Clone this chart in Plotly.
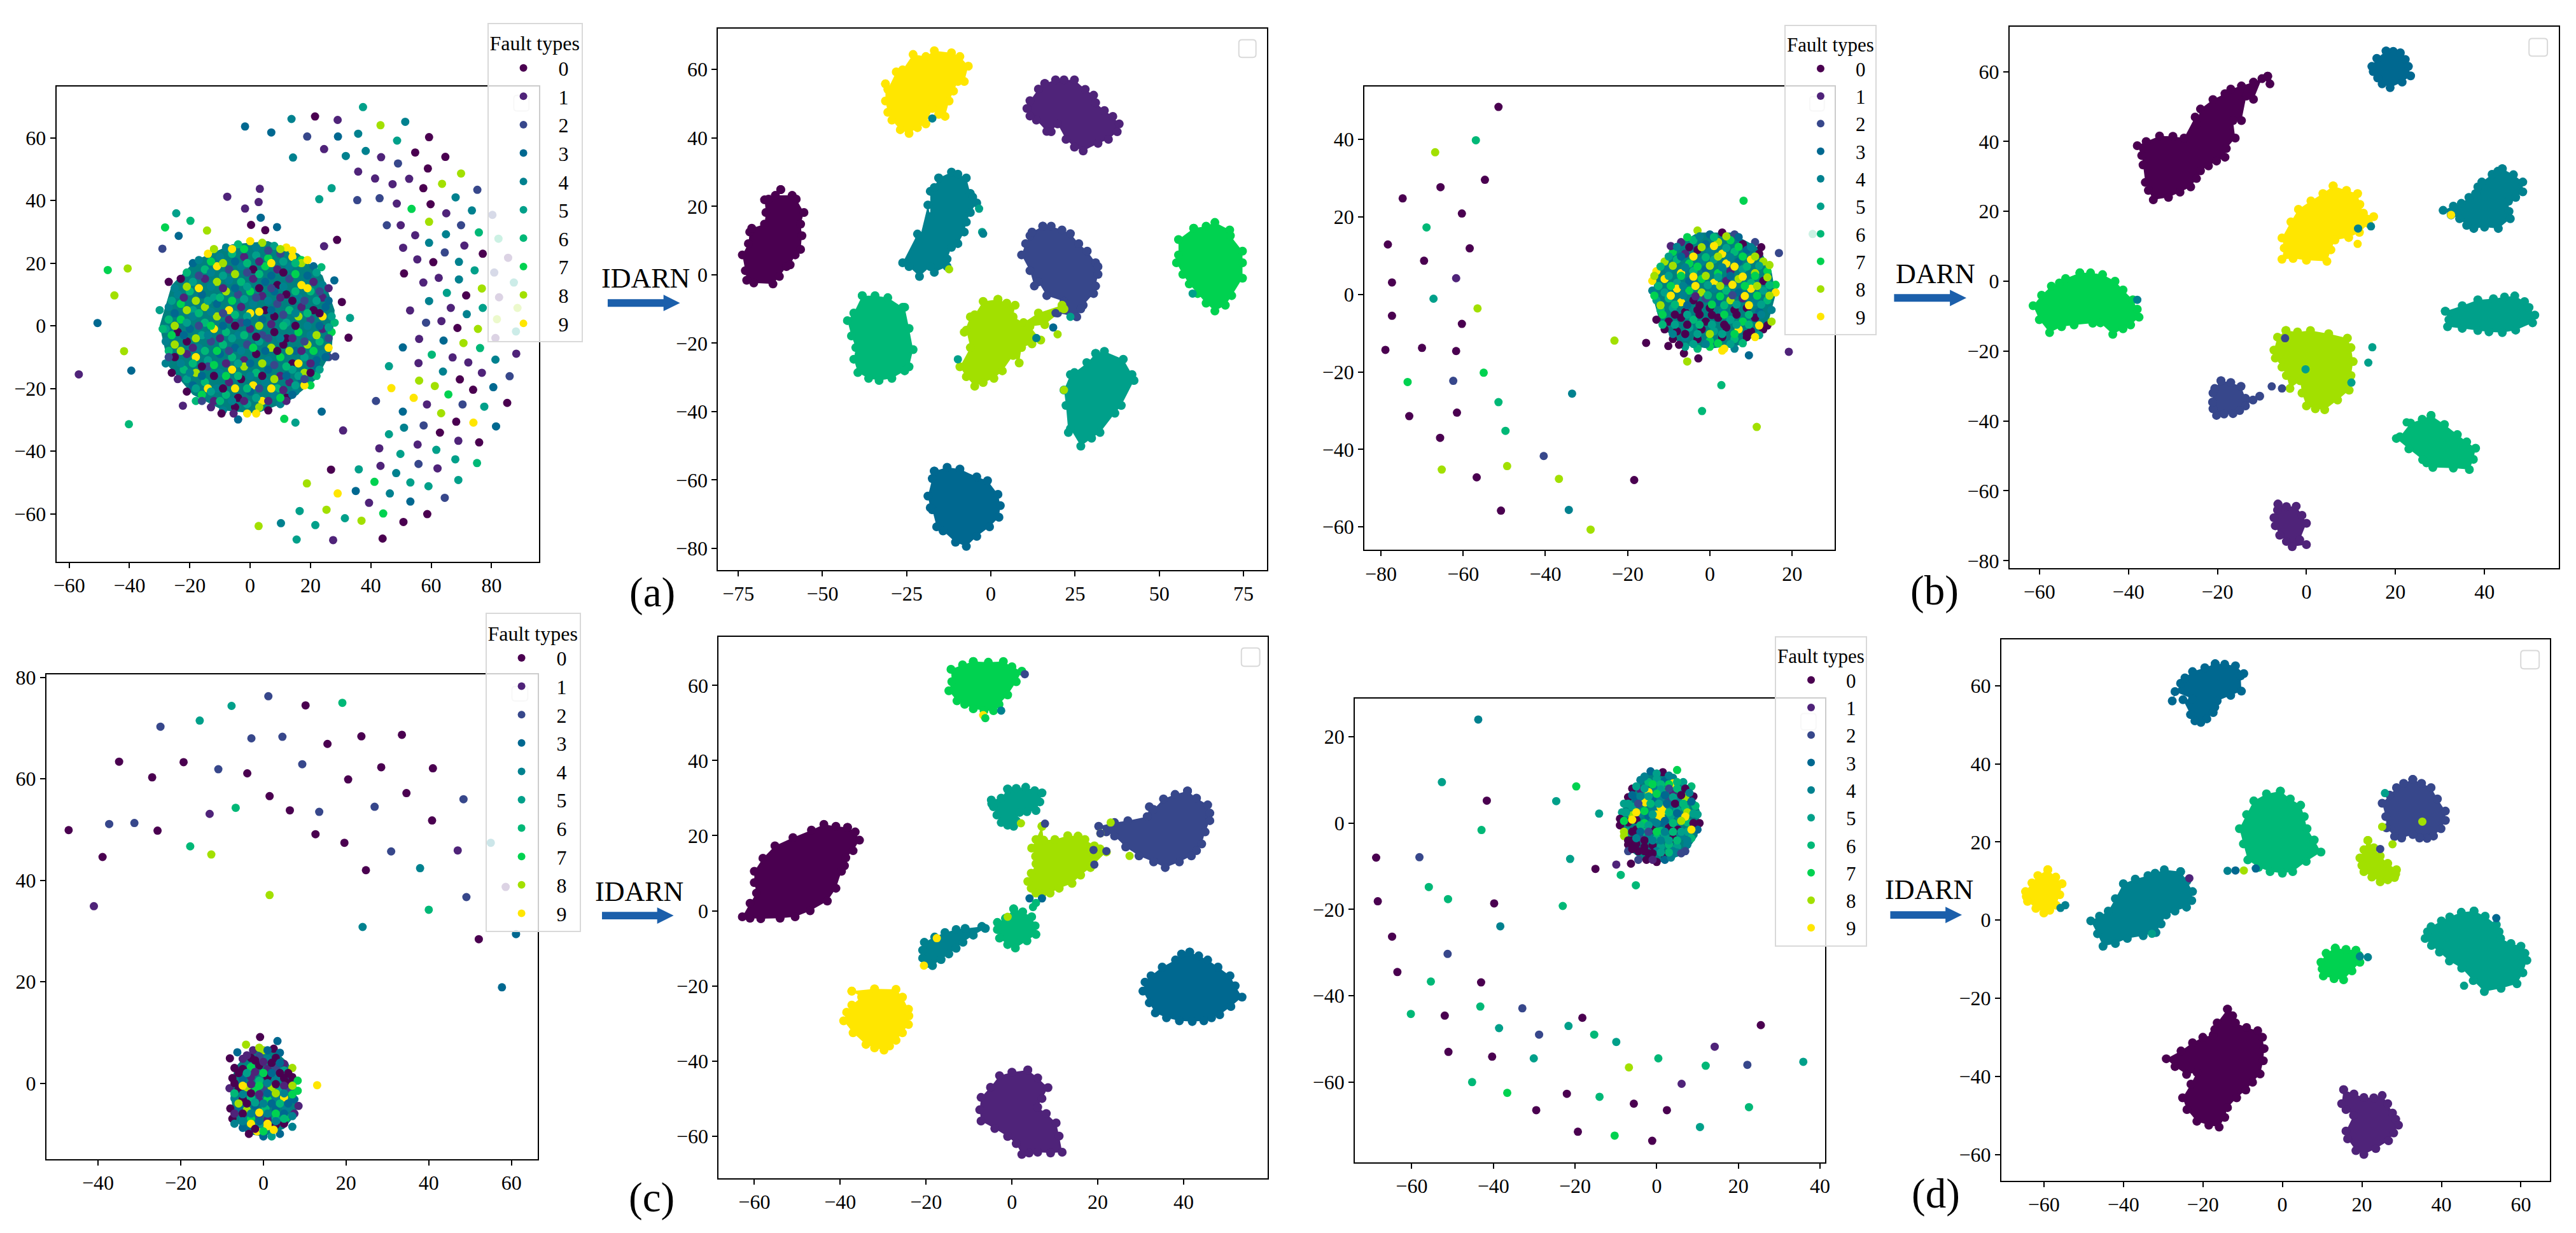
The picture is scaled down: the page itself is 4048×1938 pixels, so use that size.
import plotly.graph_objects as go

# Colours of fault types 0-9, read from the legends
fault_types = ["0", "1", "2", "3", "4", "5", "6", "7", "8", "9"]
fault_colors = ["#4a0050", "#4f2379", "#37478b", "#006890", "#00818f", "#00a08a", "#00b877", "#00d250", "#a2e000", "#ffe600"]

# ---- left panels: (x, y, fault type) ----
a1_points = [
(-1.7,63.6,3),(7,61.7,3),(13.7,66,4),(21.5,66.8,0),(29,65.7,1),(37.4,69.8,5),(43.2,64,8),(51.4,65.1,4),(59.3,60.2,0),(18.9,60.4,2),(29.1,60.4,3),(35.8,61.3,4),
(24.5,56.4,1),(31.7,54.2,4),(38.3,55.8,4),(48.7,59.1,5),(54.7,55.3,0),(64.7,53.9,0),(14.2,53.7,4),(43.4,53.8,1),(49,51.8,2),(58.9,50.2,0),(35.8,49.2,1),(41.4,47,1),
(47.2,45.2,1),(52.7,46.9,1),(69.9,48.6,8),(63.6,45.3,8),(57.4,43.9,0),(75.3,43.4,2),(27,43.9,5),(22.9,40.4,5),(35.5,40.1,2),(42.9,40.7,2),(48.6,39,1),(53.5,37.3,7),
(59.8,38.8,0),(68.1,41,4),(73.5,36.8,4),(80.3,35.4,2),(45.3,32.1,2),(49.9,32.1,1),(59.3,33.2,8),(65,35.9,1),(69.9,32.1,2),(75.8,29.8,6),(82.3,27.8,6),(54.7,28.9,1),
(59.3,26.5,4),(64.9,29.2,4),(71,25.6,1),(50.7,24.9,1),(77.1,23,0),(64.5,23.4,2),(55.4,21.2,1),(60.7,20.3,0),(69.2,20.4,4),(85.5,21.7,1),(74.4,17.7,5),(51,16.7,0),
(62.5,15.3,1),(69.2,14.8,4),(80.9,17,2),(57.4,13.8,1),(87.4,13.8,5),(76.8,11.9,8),(65.2,10.5,5),(71.6,9.7,0),(82.5,9.1,1),(59.3,7.9,4),(66.5,5.7,1),(77.1,5.7,5),
(88.6,5.7,8),(53,4.9,1),(71.8,3.7,4),(81.8,2.1,8),(58.3,1,2),(63.4,1.5,1),(68.7,-0.7,0),(75.5,-1,8),(88.1,-1.8,5),(56,-4.2,1),(64.1,-4.7,3),(81.3,-3.9,1),(70.7,-5.5,8),
(50.6,-6.9,3),(76.2,-7.1,6),(88.2,-8.9,1),(60.2,-9.2,6),(67.1,-10.1,1),(55.8,-11.9,1),(72.3,-11.7,1),(81.3,-10.8,4),(46,-12.9,5),(63.9,-14.6,4),(76.8,-15,1),(56,-17.5,8),
(69.5,-17.1,0),(86,-16.1,2),(61.2,-19.2,8),(46.8,-19.9,9),(73.9,-20.4,0),(80.6,-19.6,3),(65.7,-21.9,7),(54.2,-23,9),(41.7,-24,2),(58.6,-25.1,1),(70.4,-25.1,2),(85.2,-24.6,0),
(50.6,-27.4,3),(77.6,-25.8,5),(63.3,-27.9,8),(68.3,-30.6,0),(74,-30.9,9),(57.5,-31.8,2),(51,-32.5,4),(81.5,-32.1,3),(30.8,-33.4,1),(62.9,-34.1,0),(46,-34.6,5),(69,-36.7,1),
(75.9,-37.2,0),(55.5,-37.9,1),(42.8,-39.1,1),(61.7,-39.6,5),(49.8,-40.9,5),(68,-42.6,5),(75.2,-43.8,6),(43.2,-44.7,1),(55.8,-44.1,2),(62.1,-45.5,1),(26.8,-45.9,0),(36,-45.8,5),
(48.4,-47,4),(69,-49.2,5),(18.8,-50.3,8),(41.2,-49.8,7),(53.1,-50,5),(59.1,-51.2,5),(35,-52.7,3),(46.3,-53.5,4),(29,-53.5,9),(64.5,-54.9,2),(53.1,-56.1,3),(39.4,-56.5,1),
(25.3,-58.7,8),(16.4,-59.1,5),(44.1,-59.9,7),(58.7,-60.1,0),(31.4,-61.4,5),(36.9,-62.2,8),(50.8,-62.6,0),(10.2,-63,4),(21.6,-63.6,5),(2.8,-63.9,8),(15.4,-68.2,5),(27.5,-68.4,1),(43.9,-67.9,0),
(-56.8,-15.5,1),(-50.6,0.9,3),(-47.2,17.8,7),(-40.6,18.3,8),(-45,9.7,8),(-41.8,-8.1,8),(-39.4,-14.3,3),(-40.2,-31.4,6),(-24.5,35.9,5),(-19.8,33.5,6),(-28.2,31.4,7),(-23.7,28.7,3),
(-29.1,24.6,2),(-14.3,30.4,8),(-7.6,41.2,1),(3.2,43.7,1),(2.8,39.5,1),(-1.7,37.4,1),(3.5,34.5,3),(0.3,32.2,0),(8.9,31.5,3),(5,30.5,0),(28.8,27.4,0),(24.5,25.4,1),(23.6,18.7,6),
(27.9,14.5,3),(30.4,7.6,0),(33.1,2.5,5),(32.6,-3.8,0),(28.2,-9.8,2),(23.7,-27.4,3),(15,-30.9,5),(11.3,-29.7,7),(-4,-29.9,3),(-22.3,-25.5,1),
# the dense ball
(-8,25,4),(-4,26,6),(0,27,9),(4,26.5,8),(8,25.5,5),(12,25,9),(-14,23,9),(-10,22,4),(-6,23,6),(-2,22,1),(2,22.5,5),(6,21.5,7),(10,23,2),(14,22,9),(17,21,7),
(-19,20,3),(-15,18,6),(-11,19,9),(-7,18,2),(-3,19,4),(1,18,0),(5,19,7),(9,18,1),(13,19,4),(17,20,8),(21,19,3),(-23,15,0),(-19,14,5),(-15,15,1),(-11,14,8),(-7,14.5,4),
(-3,14,6),(1,15,1),(5,14,3),(9,13,0),(13,15,2),(17,13,9),(21,14,1),(24,13,4),(-27,14,0),(-24,10,4),(-20,11,6),(-16,10,3),(-12,9,5),(-8,11,8),(-4,10,2),(0,11,7),(4,9.5,1),
(8,11,3),(12,10,0),(16,9,4),(20,11,6),(24,9,1),(-27,6,4),(-23,7,7),(-19,5,5),(-15,6,8),(-11,7,3),(-7,5,9),(-3,6,1),(1,7,4),(5,5,0),(9,7,2),(13,5,6),(17,6,1),(21,5,0),(25,6,3),
(-30,5,5),(-27,2,6),(-23,2,7),(-19,3,4),(-15,1,6),(-11,3,8),(-7,2,1),(-3,1,2),(0,4,9),(4,2,3),(8,3,0),(12,1,5),(16,3,8),(20,2,2),(24,3,9),(28,1,6),(-28,-1,5),(-24,-2,0),(-20,-1,3),
(-16,-3,5),(-12,-1,9),(-8,-2,6),(-4,-3,4),(0,-1,1),(4,-3,2),(8,-2,0),(12,-4,0),(16,-2,7),(20,-3,4),(24,-1,1),(27,-2,7),(-28,-5,4),(-25,-6,8),(-21,-5,0),(-17,-7,4),(-13,-5,2),(-9,-6,6),
(-5,-7,3),(-1,-6,2),(3,-5,5),(7,-7,8),(11,-6,0),(15,-8,3),(19,-6,8),(23,-5,6),(26,-7,9),(-28,-12,4),(-25,-10,0),(-21,-9,1),(-18,-10,9),(-14,-11,5),(-10,-9,3),(-6,-10,6),(-2,-11,1),(2,-9,0),
(6,-11,4),(10,-10,7),(14,-12,0),(18,-10,5),(22,-11,3),(24,-9,4),(-26,-15,0),(-22,-14,6),(-18,-15,8),(-14,-13,2),(-10,-15,4),(-6,-14,9),(-2,-13,8),(2,-15,6),(6,-14,3),(10,-16,1),(14,-14,5),
(18,-15,8),(22,-13,3),(-21,-17,5),(-19,-19,3),(-15,-18,6),(-11,-20,4),(-7,-18,1),(-3,-17,0),(1,-19,9),(5,-18,4),(9,-20,6),(13,-18,1),(17,-17,3),(20,-19,7),(-21,-21,0),(-16,-22,7),(-12,-24,1),
(-8,-22,6),(-4,-23,0),(0,-21,3),(4,-24,9),(8,-22,4),(12,-23,0),(15,-21,4),(-14,-20,9),(-13,-26,1),(-9,-27,4),(-5,-26,0),(-1,-25,5),(3,-26,8),(6,-27,0),(10,-25,4),(12,-24,1),(-9.5,-28,0),(-5.5,-28,1),(-1,-28,9),(2,-28,9),
(18,-19,9),(-18,-24,6),(22,-16,6),(26,-10,2),
(-12,24.5,8),(-6,24.5,9),(-2,24.5,7),(2,25,4),(6,24,2),(10,24.5,8),(14,24,9),(-17,21,4),(-13,20.5,7),(-9,20,8),(-5,20.5,3),(-1,20,6),(3,20.5,1),(7,20,9),(11,20.5,5),(15,20,6),(19,21,9),
(-21,17,6),(-17,16,2),(-13,17,4),(-9,16,5),(-5,16.5,8),(-1,17,2),(3,16.5,6),(7,16,3),(11,17,0),(15,16.5,7),(19,16,3),(22,17,5),(-25,12,4),(-21,12.5,8),(-17,12,9),(-13,12.5,4),(-9,12,1),(-5,12,3),
(-1,12.5,5),(3,12,0),(7,12,2),(11,12.5,4),(15,11,6),(19,12,9),(23,11,2),(26,12,1),(-26,8,5),(-22,9,1),(-18,8,8),(-14,8,5),(-10,9,6),(-6,8,7),(-2,8.5,5),(2,9,2),(6,8,4),(10,9,1),(14,8,0),(18,8,2),(22,8,5),(26,8,3),
(-25,4,3),(-21,5,8),(-17,4,6),(-13,4.5,4),(-9,4,2),(-5,3.5,6),(-1,3,5),(3,4.5,9),(7,5,3),(11,3.5,2),(15,4,4),(19,4,6),(23,4,0),(27,3,5),(-29,-1,6),(-25,0,8),(-21,1,5),(-17,0,2),(-13,0,7),(-9,0,3),(-5,0,0),(-1,1,3),
(3,0,8),(7,0.5,1),(11,0,6),(15,0,0),(19,0,4),(23,0,3),(26,-0.5,5),(-26,-3,7),(-22,-3,3),(-18,-4,8),(-14,-3,4),(-10,-4,1),(-6,-4,5),(-2,-3,6),(2,-3.5,0),(6,-4,2),(10,-4,4),(14,-4,1),(18,-5,2),(22,-3,8),(26,-4,2),
(-27,-8,6),(-23,-8,8),(-19,-7,1),(-15,-8,6),(-11,-8,7),(-7,-8,2),(-3,-8,4),(1,-7,7),(5,-8,3),(9,-8,0),(13,-8,8),(17,-8,1),(21,-8,7),(25,-10,3),(-27,-10,2),(-23,-12,4),(-19,-12,6),(-16,-13,0),(-12,-12.5,7),(-8,-12,1),
(-4,-12,5),(0,-12,3),(4,-12,8),(8,-12.5,2),(12,-13,6),(16,-12,9),(20,-12,1),(23,-14,5),(-24,-17,1),(-20,-15,4),(-16,-16,3),(-12,-16,0),(-8,-16,7),(-4,-16,6),(0,-16,4),(4,-16,0),(8,-17,8),(12,-16,3),(16,-16,5),(20,-15,0),
(-18,-20,5),(-13,-21,5),(-9,-20,0),(-5,-20,9),(-1,-20,6),(3,-20,2),(7,-20,9),(11,-20.5,1),(15,-19,5),(18,-17,2),(-16,-24,2),(-10,-24,6),(-6,-24,4),(-2,-24,1),(2,-23,5),(6,-24,1),(10,-23,7),(14,-22,3),
]
a1_ball_edge = [(-6,26),(6,27),(16,23),(24,16),(28,5),(27,-8),(22,-17),(13,-24),(2,-28),(-9,-27),(-19,-22),(-27,-13),(-30,0),(-26,13),(-18,21)]

b1_points = [
(-51.4,48.4,0),(-56.9,39.8,6),(-66.8,36.7,8),(-54.7,29.6,0),(-65.5,27.7,0),(-74.7,24.8,0),(-60.3,20.9,0),(-68.9,17.3,6),(-78.3,12.9,0),(-58.4,11.9,0),(-69.5,8.7,0),(-61.7,4.2,1),
(-77.3,3.1,0),(-67.2,-1.1,5),(-56.5,-3.6,8),(-77.3,-5.5,0),(-60.3,-7.6,0),(-78.9,-14.3,0),(-70,-13.8,0),(-61.7,-14.6,0),(-55,-20.2,7),(-73.5,-22.6,7),(-62.4,-22.3,2),(-51.4,-27.8,6),
(-33.5,-25.6,4),(-73.1,-31.4,0),(-61.5,-30.5,0),(-49.7,-35.2,6),(-65.6,-37,0),(-40.4,-41.7,2),(-65.2,-45.2,8),(-49.3,-44.3,8),(-56.7,-47.2,0),(-36.7,-47.6,8),(-18.4,-47.9,0),
(-50.8,-55.8,0),(-34.3,-55.6,4),(-29,-60.7,8),(-23.2,-11.9,8),(-15.5,-12.5,0),(-10.1,-13.3,0),(2.8,-23.4,6),(-1.9,-30.1,6),(11.4,-34.2,8),(8.2,24.2,7),(25,15.6,6),(16.8,10.7,2),
(19.2,-14.8,1),(9.5,-15.7,3),(-2.8,-16.5,0),(-5.5,-17.3,8),(-6.3,-15.2,0),
# the dense ball
(-3,16.5,8),(0,15.5,3),(3,16,0),(6,15.5,2),(-7,13.5,1),(-4,14,6),(-1,13,3),(2,13.5,8),(5,14,7),(8,13,0),(11,13.5,2),(-9,11,7),(-6,10.5,1),(-3,11.5,0),(0,11,4),(3,10.5,9),(6,11,6),(9,11.5,3),(12,10.5,0),
(-11,8.5,8),(-8,9,6),(-5,8,7),(-2,8.5,4),(1,9,5),(4,8,9),(7,8.5,3),(10,9,9),(13,8.5,8),(-13,6,9),(-10,6.5,4),(-7,5.5,9),(-4,6,6),(-1,6.5,3),(2,5.5,7),(5,6,1),(8,6.5,5),(11,5.5,8),(14,6,7),
(-14,3.5,9),(-11,4,9),(-8,3,5),(-5,3.5,3),(-2,4,7),(1,3,9),(4,3.5,1),(7,4,8),(10,3,6),(13,3.5,0),(16,2.5,7),(-14,1,4),(-11,0.5,5),(-8,1.5,9),(-5,1,7),(-2,0.5,8),(1,1.5,4),(4,1,6),(7,0.5,3),(10,1.5,9),(13,1,5),(16,0.5,9),
(-13,-1.5,5),(-10,-1,6),(-7,-2,9),(-4,-1.5,0),(-1,-1,2),(2,-2,3),(5,-1.5,8),(8,-1,1),(11,-2,4),(14,-1.5,6),(-12,-4,6),(-9,-3.5,5),(-6,-4.5,0),(-3,-4,0),(0,-3.5,0),(3,-4.5,4),(6,-4,0),(9,-3.5,0),(12,-4.5,3),(15,-4,4),
(-13,-6.5,0),(-10,-7,0),(-7,-6,0),(-4,-6.5,6),(-1,-7,0),(2,-6,0),(5,-6.5,5),(8,-7,7),(11,-6,0),(14,-8,0),(-11,-9,0),(-8,-9.5,0),(-5,-8.5,5),(-2,-9,0),(1,-9.5,5),(4,-8.5,0),(7,-9,9),(10,-9.5,0),(13,-9,0),
(-9,-11.5,0),(-6,-11,4),(-3,-11.5,0),(0,-12,7),(3,-11,0),(6,-11.5,6),(9,-11,0),(12,-10.5,5),(-6,-13.5,5),(-3,-14,6),(0,-13.5,7),(3,-14.5,9),(6,-14,4),
(-5.5,14.8,7),(-2.5,15,4),(1,14.8,6),(4,15,8),(7,14.8,3),(-9.5,12.5,1),(-8,12.3,4),(-5,12.2,0),(-2,12.2,8),(1,12.5,9),(4,12,5),(7,12.3,7),(10,12.2,4),(12.5,12.2,0),(-10,9.8,5),(-7,9.8,3),(-4,9.8,9),(-1,9.6,6),(2,9.8,8),(5,9.6,4),(8,9.8,7),(11,9.8,8),
(-12,7.2,6),(-9,7.4,8),(-6,7,4),(-3,7.2,7),(0,7.4,8),(3,7,4),(6,7.2,9),(9,7.2,6),(12,7.4,5),(14.5,7.6,8),(-13.5,4.8,8),(-10,4.8,5),(-7,4.8,7),(-4,4.6,9),(-1,4.8,8),(2,4.5,5),(5,4.8,3),(8,4.6,9),(11,4.8,7),(14,4.4,8),
(-12.5,2.2,6),(-9.5,2.2,7),(-6.5,2.2,4),(-3.5,2.2,9),(-0.5,2.4,5),(2.5,2.2,8),(5.5,2.5,9),(8.5,2.2,7),(11.5,2.2,8),(14.5,2.4,6),(-13.5,-0.3,7),(-9.5,-0.3,9),(-6.5,-0.2,4),(-3.5,-0.5,1),(-0.5,-0.2,6),(2.5,-0.5,7),(5.5,-0.2,2),(8.5,-0.4,9),(11.5,-0.3,7),(14.5,-0.3,8),
(-12,-2.8,8),(-8.5,-2.6,6),(-5.5,-2.8,3),(-2.5,-2.8,0),(0.5,-2.6,7),(3.5,-2.8,6),(6.5,-2.6,5),(9.5,-2.8,9),(12.5,-2.6,5),(-11.5,-5.2,7),(-8.5,-5.2,0),(-5.5,-5.2,5),(-2.5,-5.2,0),(0.5,-5.3,0),(3.5,-5.2,7),(6.5,-5.2,0),(9.5,-5.2,6),(12.5,-5.2,4),(15,-7,8),
(-11.5,-7.8,6),(-8.5,-7.8,5),(-5.5,-7.8,0),(-2.5,-7.8,6),(0.5,-7.8,5),(3.5,-7.8,0),(6.5,-7.8,5),(9.5,-7.8,6),(12,-8,9),(-9,-10.2,4),(-6,-10.2,0),(-3,-10.2,5),(0,-10.2,8),(3,-10.2,5),(6,-10.2,7),(9,-10.2,0),(11,-11,9),
(-7.5,-13,0),(-4,-12.8,5),(-1,-12.8,4),(2,-12.6,7),(5,-12.8,5),(8,-12.6,6),(3.5,-14,9),
]
b1_ball_edge = [(-3,16),(5,16),(12,12),(15,6),(16,0),(14,-8),(8,-13),(0,-14),(-7,-13),(-12,-8),(-14,0),(-13,6),(-9,12)]

c1_points = [
(-47.1,49.9,0),(-38.9,44.6,0),(-41,34.9,1),(-37.3,51.1,2),(-31.2,51.3,2),(-25.6,49.8,0),(-34.9,63.4,0),(-26.9,60.3,0),(-19.3,63.3,0),(-24.9,70.3,2),(-15.4,71.5,5),(-7.7,74.4,5),(1.2,76.3,2),
(10.2,74.5,0),(19.1,75,6),(-2.9,68,2),(4.6,68.3,2),(15.5,66.9,0),(23.7,68.4,0),(33.5,68.7,0),(-10.9,61.9,2),(-3.9,61.1,0),(9.4,62.9,2),(20.5,59.9,0),(28.5,62.3,0),(41,62.1,0),(1.5,56.6,0),
(-6.7,54.3,6),(-13,53.1,1),(6.4,53.8,0),(13.5,53.5,2),(26.9,54.5,2),(34.6,57.2,0),(48.4,56,2),(40.8,51.8,0),(12.6,49.1,0),(19.6,47.4,0),(-17.7,46.7,6),(-12.6,45.1,8),(30.9,45.7,2),(47,45.9,1),
(55,47.4,4),(24.8,42,0),(37.9,42.4,4),(1.5,37.1,8),(58.6,38.7,1),(49.1,36.7,2),(40,34.2,6),(24,30.8,4),(52.1,28.4,0),(61.1,29.4,3),(57.7,18.9,3),(13,-0.4,9),
(-0.8,9.1,0),(3.4,8.3,3),(-4.2,7.6,8),(-6.3,6.1,3),(-8.1,4.9,0),
# the dense ball
(-2.5,6.5,1),(0,6.5,8),(2.5,6.8,0),(4,6,3),(-5,4.8,1),(-3,5,0),(-1,5.3,2),(1,4.8,4),(3,5,0),(5,3.8,1),(-7,3,0),(-5,2.8,0),(-3,3.2,7),(-1,3.5,0),(1,2.8,1),(3,3,2),(5,2.5,5),(7,3,8),
(-7.5,1,0),(-5,0.8,3),(-3,1.2,1),(-1,0.5,6),(1,1.2,0),(3,0.8,4),(5,1,0),(7,1.2,0),(8.3,0.5,7),(-8.2,-1,1),(-6,-1.2,0),(-4,-0.8,8),(-2,-1.5,7),(0,-1,2),(2,-0.8,8),(4,-1.2,5),(6,-1,2),(8.3,-1.5,7),
(-7,-3,4),(-5,-3.2,0),(-3,-2.8,6),(-1,-3.5,1),(1,-3.2,7),(3,-3,4),(5,-2.8,9),(7.5,-3.2,3),(-8,-5,0),(-6,-4.8,3),(-4,-5.3,8),(-2,-4.5,3),(0.5,-5,6),(3,-5.2,3),(5.5,-5,4),(8.5,-4.5,1),
(-7.5,-7,0),(-5,-6.8,4),(-3,-7,7),(-1,-6.5,2),(1,-7.2,1),(3,-7,5),(5.5,-6.8,7),(7.5,-6,1),(-7,-8,4),(-5,-8.8,3),(-3,-9,3),(-1,-8.5,5),(1,-8.5,9),(3,-8.2,0),(5,-8,0),(7,-8.6,4),
(-3.5,-10,0),(-1.5,-9.5,9),(0,-10.5,3),(2,-10.5,5),(4,-10,3),(2.5,-9.2,9),
(-1,7,8),(1,6.5,3),(-4,5.5,1),(-2,4.5,0),(0,4.2,1),(2,4,0),(4,4,3),(6,2,0),(-6,2,0),(-4,2,5),(-2,2.2,1),(0,2,7),(2,2,3),(4,2,0),(6,0,0),(-7,0,0),(-5,-0.5,9),(-3,-0.2,1),(-1,-0.5,7),(1,0,4),(3,-0.2,0),(5,-0.5,1),(7,-0.5,8),
(-7,-2,6),(-5,-2.2,4),(-3,-2,0),(-1,-2.2,1),(1,-2,3),(3,-2,8),(5,-2,4),(7,-2.2,7),(-6,-4,8),(-4,-4,0),(-2,-3.8,5),(0,-4,4),(2,-4,3),(4,-4,6),(6,-4,3),(-7,-6,1),(-5,-6,0),(-3,-6,4),(-1,-5.8,9),(1,-6,4),(3,-6,7),(5,-6,3),(7,-6.5,4),
(-5,-7.5,4),(-3,-8,9),(-1,-7.5,3),(1,-8,9),(3,-7.5,4),(5,-7,6),(-2,-9,0),(0,-9.5,7),
]
c1_ball_edge = [(-3,6.5),(2,7),(6,4),(8,0),(8,-6),(5,-9),(0,-10.5),(-4,-10),(-7,-7),(-8,-2),(-7,3)]

d1_points = [
(-43.7,24,4),(-52.6,9.5,5),(-41.6,5.2,0),(-42.9,-1.6,6),(-24.6,5.1,5),(-19.7,8.5,7),(-14.1,2.2,5),(-68.7,-8,0),(-58.1,-7.9,2),(-21.2,-8.3,5),(-15,-10.6,0),(-9.9,-9.6,1),(-6.3,-9.4,0),(-8.8,-12,6),
(-5.1,-14.4,6),(-55.8,-14.8,6),(-51.1,-17.6,6),(-68.3,-18.1,0),(-39.8,-18.6,0),(-23,-19.2,6),(-38.3,-23.9,4),(-64.8,-26.3,0),(-51.2,-30.3,2),(-63.5,-34.5,0),(-55.3,-36.7,6),(-43,-36.9,0),(-43.2,-42.5,6),
(-60.2,-44.2,6),(-51.9,-44.6,0),(-32.9,-42.9,2),(-18.2,-45.1,0),(-38.6,-47.5,5),(-21.6,-47,5),(-28.8,-49,2),(-15.3,-49,6),(-9.9,-50.7,5),(25.5,-46.8,0),(14.2,-51.8,1),(-51,-53,0),(-40.3,-54.1,0),
(-30.1,-54.5,5),(0.4,-54.5,6),(35.9,-55.3,5),(22.2,-56,2),(12,-56.2,6),(-6.8,-56.6,8),(-45.2,-60,6),(6.1,-60.4,1),(-36.6,-62.5,7),(-22,-62.7,0),(-14,-63.4,6),(-5.6,-65,0),(-29.5,-66.5,0),(2.5,-66.5,0),
(22.6,-65.8,6),(10.6,-70.4,5),(-19.3,-71.5,0),(-10.3,-72.4,7),(-1.1,-73.6,0),(5,12.3,7),
# the dense ball
(-1.5,12,3),(1.5,11.8,0),(4,10.5,4),(-4,10,4),(-2,9.5,6),(0,10.2,5),(2,9.8,3),(4,9.2,9),(6.5,9.5,5),(-6,8,0),(-4,7.8,1),(-2,7.2,9),(0,8,4),(2,7.5,7),(4,7.2,1),(6,7.8,4),(8.5,8.5,6),
(-7,6,0),(-5,5.5,3),(-3,6,5),(-1,5.2,3),(1,5.8,4),(3,5.5,2),(5,5,4),(7,6,8),(9,6.2,0),(-8,4.5,5),(-6,3.8,5),(-2.8,4.8,9),(-1,3.2,4),(1,3.6,9),(3,3.5,4),(5,3,5),(7,3.5,6),(9.5,4,6),
(-8.5,2.5,5),(-6,1.8,8),(-4,2.2,4),(-2,1.5,3),(0,2,9),(1.5,2.8,9),(3.5,1.8,5),(5.5,1.2,4),(7.5,2.5,8),(10,2,5),(-9,1,0),(-7,0.2,0),(-5,0.8,0),(-3,0,7),(-1,0.5,4),(1,0,3),(3,0.2,5),(5,-0.5,4),(7.5,0.2,6),(10.5,0,0),
(-9,-0.5,0),(-7,-2,5),(-5,-1.5,0),(-3,-2,6),(-1,-1.5,0),(1,-1.8,6),(3,-1,0),(5.2,-1.5,0),(7.5,-2,5),(10,-1.5,3),(-8,-3,8),(-6,-4,0),(-4,-3.5,2),(-2,-3,4),(0,-3.5,6),(2,-3,5),(4,-3.5,0),(6,-3,4),(8.5,-3.5,6),
(-7,-5,0),(-5,-4.8,0),(-3,-5.5,0),(-1,-5.2,0),(1,-5.5,5),(3,-5,6),(5,-5.5,5),(7.5,-5,4),(-7,-6.5,2),(-4.5,-6.5,0),(-2,-7,0),(0,-6.5,4),(2,-7.5,0),(4,-6.5,4),(7,-6.5,2),(-4.5,-8.5,2),(-2.5,-8.5,0),(0,-9,0),(2,-8.5,3),(3.5,-8,4),
(0,11.5,5),(3,11,4),(-3,10.8,4),(-1,9,7),(1,9,6),(3,9,7),(5,9.5,6),(-5,8.5,5),(-3,8,5),(1,7.8,5),(3,8,2),(5,8,6),(7,8,0),(-6,6.5,3),(-4,6.2,4),(-2,6.2,5),(0,6.8,7),(2,6.5,3),(4,6,5),(6,6.5,0),(8,7,4),(-7,4.5,5),(-4.5,4.5,2),(-1.5,4.5,6),
(0.5,4.5,5),(2.5,4.5,3),(4.5,4.5,0),(6.5,4.5,6),(8.5,5,3),(-7.5,2.5,5),(-5,2.5,9),(-3,2.8,7),(-1,2,5),(1,1.5,9),(3,2.5,6),(5,2.3,3),(7,1.5,9),(9,2.2,5),(-8,0.5,7),(-6,0.8,9),(-4,-0.5,6),(-2,-0.5,5),(0,0,4),(2,0.5,3),(4,0,6),(6,0.5,8),(9,0,0),
(-8,-2,8),(-6,-2,0),(-4,-2,3),(-2,-2,2),(0,-2,7),(2,-2,4),(4,-2,6),(6,-2,5),(8.5,-1.5,9),(-7,-4,0),(-5,-3.5,4),(-3,-4,0),(-1,-4,4),(1,-4,4),(3,-4,5),(5,-4,6),(7.5,-4,4),(-6,-6,0),(-3,-6.5,0),(-1,-7,0),(1,-6.8,5),(3,-6.8,6),(5,-6.8,4),(6,-7,2),(-1,-8.5,1),
]
d1_ball_edge = [(-2,12),(3,11.5),(8,8.5),(10.5,3),(10,-3),(7,-7),(2,-9),(-3,-9),(-7,-6),(-9,-1),(-8,5),(-5,9)]

# ---- right panels: rim of each cluster, one list per fault type ----
a2_type0 = [(-62.4,24.9),(-64,23.2),(-59,23.2),(-57.8,22.1),(-55.5,18.2),(-56.5,14.8),(-56.1,11.4),(-56.5,7.4),(-58.1,5.8),(-59.6,2.9),(-60.7,2.4),(-62.8,-0.5),(-64.7,-2.7),(-70.4,-2.4),(-72.5,-1.6),(-72.9,1.2),(-73.8,5.8),(-72,9.1),(-71.6,12.5),(-71,13.6),(-67.2,14.8),(-66.8,18.2),(-67.2,21.9),(-66,22.1)]
a2_type1 = [(16,55.9),(19.2,57),(21.7,57),(24.8,57),(28,54.2),(30.5,52.5),(31.1,50.3),(33.7,48),(36.2,46.3),(38.1,44.1),(37.5,41.8),(34.9,39.6),(31.8,38.4),(27.4,36.2),(24.8,37.3),(22.3,39.6),(19.8,44.1),(17.9,41.8),(16.6,41.9),(13.5,45.2),(11.6,46.4),(10.7,48.6),(11.6,50.9),(14.1,54.3)]
a2_type2 = [(15.4,14.2),(17.9,14.2),(21.1,13.1),(23.6,12),(26.1,9.1),(28.6,6.9),(31.1,3.5),(31.8,2.4),(31.8,0.1),(31.1,-3.3),(30.5,-5.5),(27.4,-8.9),(26.7,-10),(25.5,-12.3),(19.8,-11.2),(21.7,-7.8),(16.6,-6.1),(14.1,-2.1),(12.9,-3.3),(11.6,1.2),(9.1,5.8),(10.3,9.1),(11.6,11.4),(12.2,12.5)]
a2_type3 = [(-16.8,-57.4),(-13,-56.3),(-9.2,-56.8),(-4.2,-59.1),(-1,-60.2),(2.1,-64.2),(2.8,-67.5),(2.4,-70.9),(-0.4,-73.7),(-4.2,-76.5),(-7.3,-79.4),(-10.5,-78.2),(-14.2,-74.9),(-16.1,-73.7),(-17.4,-68.7),(-18,-68.1),(-18.7,-64.7),(-17.4,-59.6)]
a2_type4 = [(-15.5,28.3),(-11.7,30),(-9.8,29.4),(-7.3,28.3),(-6.1,23.8),(-5.4,22.7),(-4.2,21),(-6.1,18.2),(-7.3,15.4),(-7.9,12.5),(-9.8,9.1),(-11.7,8),(-13,4.6),(-13,2.4),(-16.8,0.7),(-18,2.4),(-21.2,-0.5),(-24.3,2.4),(-26.2,3.5),(-21.8,11.9),(-21.2,10.3),(-18.7,20.4),(-18,17),(-18,24.4),(-16.8,25.5)]
a2_type5 = [(31.1,-23),(33.7,-22.4),(39.3,-24.7),(41.9,-29.2),(42.5,-30.9),(38.7,-38.2),(36.8,-40.5),(32.4,-46.1),(29.9,-47.8),(26.7,-50.1),(23.6,-45),(23,-46.1),(22.3,-38.2),(21.7,-33.7),(23.6,-29.2),(24.8,-28.6),(28.6,-25.8)]
a2_type6 = [(-38.2,-6.1),(-34.4,-6.1),(-30.6,-6.7),(-26.2,-9.5),(-25.6,-9.5),(-24.3,-15.7),(-23.1,-21.9),(-24.3,-26.9),(-25.6,-28.1),(-29.4,-30.3),(-33.2,-30.9),(-36.3,-30.3),(-39.5,-28.6),(-40.7,-24.7),(-40.1,-21.3),(-41.4,-17.9),(-42.6,-13.4),(-40.7,-11.2)]
a2_type7 = [(60.2,13.6),(63.9,14.2),(66.5,15.3),(70.9,13.1),(71.1,11.4),(74.7,6.9),(74.7,3.5),(74.7,-1),(71.5,-6.1),(69.6,-8.9),(66.5,-10.6),(63.9,-8.3),(61.4,-5.5),(58.9,-2.7),(57,0.1),(55.1,3.5),(55.7,5.8),(55.7,10.3)]
a2_type8 = [(2.1,-7.2),(4.7,-8.3),(7.2,-8.9),(6.6,-12.3),(9.7,-14),(14.1,-11.2),(21.1,-8.9),(21.7,-10),(16,-14.6),(11.6,-15.1),(14.8,-19.1),(12.2,-20.2),(9.1,-21.3),(8.4,-25.8),(6.6,-23.6),(3.4,-28.1),(0.9,-30.3),(-2.3,-31.5),(-4.8,-32.6),(-7.3,-29.8),(-9.2,-26.9),(-6.1,-21.3),(-7.3,-16.2),(-7.9,-16.8),(-6.1,-12.3),(-4.8,-11.7),(-2.3,-7.8)]
a2_type9 = [(-31.3,55.8),(-30.6,54.2),(-28.1,59.3),(-26.2,59.9),(-23.1,64.4),(-19.3,63.8),(-16.8,65.5),(-11.7,64.9),(-9.2,63.8),(-6.7,61),(-7.9,56.5),(-9.8,56.5),(-11.1,53.7),(-12.4,50.8),(-13.6,46.3),(-15.5,46.9),(-17.4,48.6),(-19.3,44.1),(-21.8,43),(-24.3,41.3),(-26.9,42.4),(-29.4,45.2),(-30.6,47.5),(-31.3,50.8)]
a2_strays = [(19.8,-17.4,8),(-17.4,45.7,4),(-9.8,-24.7,5),(13.5,-18.5,4),(23.6,-12.3,5),(19.2,-11.2,2),(18.5,-15.4,3),(21.7,-33.7,8),(28.4,-25.6,5),(-12.4,1.6,8),(-2.6,12.5,5),(-2.3,12,4),(-3.5,19.3,5),(59.9,-5.5,5)]

b2_type0 = [(-8.7,58.7),(-8.2,56.5),(-10,58),(-11.9,52.1),(-13.5,53),(-14.6,46),(-16.5,46),(-16,41),(-18,38),(-18.3,35.5),(-20.2,34.4),(-22,33),(-23.8,31.6),(-24.7,29.4),(-26,27),(-28.4,25.5),(-31,24),(-34.4,23.3),(-35.5,26),(-36.2,28.3),(-36.7,33.3),(-37,36),(-38,38.8),(-36,40),(-33,41.6),(-30,41.5),(-27.5,41),(-25,47),(-24.7,44.9),(-23.8,49.3),(-21,52),(-18.3,53.7),(-17,55),(-14.6,55.9),(-11.9,57)]
b2_type1 = [(-6.4,-63.8),(-4.5,-64.5),(-2.3,-64.4),(-1,-67),(0,-69.3),(-1.5,-74),(0,-75.4),(-3.2,-76),(-4.5,-74.5),(-6,-72.7),(-7,-70),(-7.3,-67.7),(-6.5,-65.5)]
b2_type2 = [(-19.2,-28.5),(-17,-29),(-14.7,-30.1),(-13.7,-33.5),(-10.5,-32.9),(-12,-34),(-13.7,-35.7),(-15,-37),(-16.5,-37.9),(-18.5,-38),(-20.2,-38.4),(-21,-36.5),(-21.1,-34.6),(-21,-32),(-20.6,-30.7)]
b2_type3 = [(17.9,65.9),(19.5,65.8),(21.1,65.4),(22.2,63.5),(22.9,61.5),(23.4,58.8),(21.5,57),(18.8,55.4),(17,56.5),(16,58.2),(15,60),(14.7,61.5),(15.8,63.8)]
b2_type4 = [(44,32.2),(46.5,30.5),(48.6,28.4),(48.6,25.6),(47,24),(45.4,22.9),(45.5,20),(45.8,17.9),(43.1,15.1),(40,15.5),(37.6,15.1),(36,16),(34.4,17.9),(32.5,19),(30.7,20.3),(33,21.5),(34.8,22.3),(36.5,24),(38,25.1),(38.5,27),(39.4,28.4),(41.7,30.6),(43,31.5)]
b2_type5 = [(31.2,-8.6),(35,-7),(38.5,-5.3),(42,-5),(44.5,-4.5),(46.8,-4.2),(49,-5.8),(50,-7.5),(51.3,-9.7),(50.8,-11.9),(47,-14),(44,-14.7),(41,-14.5),(38.5,-14.1),(35,-13.5),(31.7,-13),(32,-11)]
b2_type6 = [(28,-38.4),(31,-41),(33.9,-43.9),(36,-46),(38,-47.8),(37.5,-51),(36.6,-53.9),(33,-53.5),(28.4,-53.3),(27,-52),(26.1,-51.1),(23,-48),(20.2,-45),(21,-44.5),(23.4,-40.6),(26,-39.5)]
b2_type7 = [(-50.9,2.4),(-48.5,2.4),(-45.8,1.9),(-43,0),(-41.2,-2.5),(-39,-5.3),(-38,-8),(-37.6,-10.3),(-39.5,-12.5),(-41.2,-13.6),(-43.5,-15.2),(-46.3,-11.9),(-48,-12),(-52.2,-12.5),(-55,-13),(-57.7,-14.7),(-60,-11),(-61.4,-7),(-59.5,-4),(-57.3,-1.4),(-55.5,-0.5),(-54.1,0.8)]
b2_type8 = [(-4.6,-14.1),(-2,-14.5),(0.9,-14.1),(5,-15),(9.2,-16.3),(10,-19),(10.5,-23),(10,-27),(9.6,-31.2),(7,-34),(4.1,-36.8),(2,-36.5),(0,-35.7),(-1,-32),(-1.4,-28.5),(-3.7,-30.7),(-4.5,-27),(-5.5,-24.6),(-7,-22),(-7.3,-19.7),(-6.5,-16)]
b2_type9 = [(6,27.3),(9,26),(11.5,25.1),(12,22),(12.8,19.5),(15.1,18.5),(14,16.5),(11.9,14),(9.5,12.5),(6.4,11.8),(5.5,9),(4.6,5.7),(0,6),(-3,6.5),(-5.5,6.3),(-5,9.5),(-5.5,12.4),(-3.5,17),(-1.8,20.6),(1,23),(3.7,25.1)]
b2_strays = [(-7.8,-30.1,2),(-5.5,-30.7,2),(-4.8,-16.3,2),(22.5,-40.4,6),(11.5,10.7,9),(32.5,19,9),(11.6,15.1,4),(14.5,15.7,4),(14.8,-18.9,5),(13.9,-23.3,5),(10.1,-29,5),(-0.2,-25.2,5),(-38,-5.3,4)]

c2_type0 = [(-38.3,22.2),(-36.5,21),(-35.5,18.8),(-37,16),(-38.7,14.1),(-39,12),(-39.7,10.5),(-41,6),(-43,2.6),(-47,0),(-50.5,-1.6),(-54,-2),(-58.5,-2.1),(-61,-2),(-62.8,-1.6),(-61,2),(-59.5,4.7),(-60,7.5),(-60,10.5),(-58,14),(-55.2,17.3),(-51,19.5),(-46.7,21.5),(-43.8,23),(-41,22.5)]
c2_type1 = [(3.7,-42.4),(6,-44.5),(8.4,-47.1),(7,-50),(6,-52.3),(8,-54),(10.3,-56.5),(11,-60),(11.7,-64.3),(9,-64.5),(6,-64.3),(4,-64.5),(2.3,-64.9),(1,-62),(-1,-60.1),(-4,-58),(-7.2,-56),(-7.5,-53),(-7.2,-49.7),(-5,-47),(-2.9,-43.9),(0,-43)]
c2_type2 = [(40.9,31.9),(43,30),(45.6,28.2),(46.1,26),(46.1,24),(45,21),(44.2,17.8),(43,16),(41.8,14.6),(39,13),(35.7,11.5),(33,13),(29.6,14.6),(26.5,17),(23.9,19.9),(22,21),(20.2,22.5),(23.9,23.5),(27,24),(31.5,25.1),(32,27.7),(33,27),(35.3,29.8),(38,31)]
c2_type3 = [(41.4,-11),(43.5,-12),(45.6,-13.1),(48,-15),(50.8,-17.3),(52,-20),(53.6,-23),(51,-25.5),(48.4,-27.7),(46.5,-28.5),(44.7,-29.3),(42,-29.5),(39,-29.3),(36,-28.5),(33.4,-27.2),(32,-24.5),(30.5,-21.4),(31,-19),(32.4,-17.3),(35,-15),(38.1,-13.1),(39.5,-11.5)]
c2_type4 = [(-7,-4.2),(-6.2,-4.7),(-9,-6.5),(-11.4,-8.4),(-13,-10),(-14.7,-11.5),(-16.5,-13),(-18.5,-14.6),(-19.5,-14),(-20.8,-12.6),(-20.8,-10.5),(-20.4,-8.4),(-18,-7),(-15.6,-5.8),(-13,-5),(-10.9,-4.7)]
c2_type5 = [(-1,32.4),(1,32.6),(3.2,32.9),(5.3,32),(7,31.4),(6.5,29),(5.6,26.7),(3.5,26.4),(1.8,26.2),(1,24),(0.4,22.5),(-1,22.8),(-2.5,23.5),(-3.5,25.5),(-4.3,27.7),(-4.7,28.5),(-4.8,29.5),(-2.5,30)]
c2_type6 = [(0.4,0.5),(2.5,-0.3),(4.6,-1.6),(5.4,-4),(5.6,-6.3),(3.5,-8),(0.8,-9.9),(-1,-9),(-2.9,-7.3),(-3.4,-5),(-3.4,-3.1),(-1.5,-2)]
c2_type7 = [(-9,66.4),(-5.5,66.2),(-2,66.4),(0,65),(2.3,63.8),(1,61),(-1,57.5),(-3,55),(-4.3,53.3),(-6.5,53.3),(-9,53.8),(-11,55),(-12.8,55.9),(-14.7,58.6),(-14,61),(-14.2,64.3),(-11.5,65.5)]
c2_type8 = [(7,22.5),(7.4,18.8),(10,19),(13,20),(15.4,19.9),(17,19),(19.2,17.3),(20.5,16.5),(22,15.7),(18.3,11.5),(16,9.5),(14,7.3),(11,6),(8.9,4.7),(7,4.5),(5.6,4.7),(4.5,6),(3.7,7.8),(4.5,10),(5.6,12.5),(5.5,14.5),(4.6,16.7),(5.6,19)]
c2_type9 = [(-37.3,-21.4),(-32,-20.8),(-27,-20.9),(-25.5,-23),(-24.1,-26.2),(-24,-28),(-24.1,-30.3),(-25.5,-32.5),(-27,-34.5),(-28.5,-36),(-29.8,-37.1),(-32,-36.5),(-34,-35.6),(-37,-32.5),(-39.2,-29.3),(-38.5,-27),(-37.3,-25.1),(-35,-23)]
c2_strays = [(3,63,2),(20.6,20.6,8),(23,23.5,8),(27.4,14.6,8),(7.7,23.2,2),(20.6,20.6,2),(19,16.2,2),(22,15.9,2),(19.2,12.3,2),(4.1,3.3,3),(7,3.3,3),(-2.5,53.3,4),(5.6,2.1,6),(4.9,1,6),(-1,-1.6,8),(2.1,23.3,8),(-6.7,52.1,9),(-6.2,51.3,7),(-20.5,-14.6,9),(-17.5,-7.3,9)]

d2_type0 = [(-13.8,-22.8),(-12.5,-24.5),(-11.8,-26.3),(-9,-27.5),(-6.2,-28.3),(-5,-30),(-4.6,-32.9),(-4.8,-36),(-5.6,-39.4),(-7.5,-41.5),(-9.2,-43.5),(-11.5,-45.5),(-13.8,-48),(-14.5,-50.5),(-15.9,-53),(-18.5,-52.5),(-21.5,-51.5),(-24,-48.5),(-25.1,-45.5),(-23,-42),(-21.5,-39),(-24.1,-39.5),(-27,-37.5),(-29.2,-35.5),(-25.5,-33.5),(-22.6,-31.4),(-20,-30),(-17.4,-29.4),(-17,-28),(-16.4,-26.3)]
d2_type1 = [(15.4,-43.4),(18,-44.5),(20.5,-45.4),(23,-45.5),(25.1,-44.9),(26.5,-47),(27.7,-49.4),(28.5,-51),(29.2,-52.5),(28,-54.5),(26.7,-56.5),(23.5,-58.5),(20.5,-60),(18.5,-59),(16.4,-56),(16,-54),(17.9,-50),(16,-48.5),(14.9,-47)]
d2_type2 = [(32.8,36),(35,35),(37.4,33.9),(39,31),(41,27.9),(41,25.5),(39.9,23.4),(38,21.5),(36.4,20.9),(34.5,21),(32.8,21.9),(30,21),(28.2,21.4),(26.2,23.6),(26,26.5),(25.1,29.9),(27,32),(28.7,33.9),(30.5,35)]
d2_type3 = [(-16.9,65.6),(-14.5,65.5),(-11.8,65.1),(-9.7,63.1),(-10.5,62.5),(-10.3,58.6),(-13,57.5),(-16.4,56.1),(-17,54.5),(-17.4,53.1),(-19,51.5),(-20.5,50.6),(-22,51),(-23.1,52.6),(-25,56.4),(-22.6,56.6),(-27,58.5),(-27.7,56.1),(-25.6,60.6),(-24.5,62),(-22.6,63.6),(-19.5,64.6)]
d2_type4 = [(-25.6,12.4),(-24,10),(-22.6,7.3),(-22.8,5),(-24.1,3.3),(-27,2.3),(-29.2,1.3),(-30.5,-1),(-31.8,-3.2),(-35,-4),(-39,-4.7),(-42,-6),(-45.1,-6.7),(-46.5,-3.5),(-48.2,-0.2),(-46,1),(-43.8,2.3),(-42,5.5),(-40,9.3),(-37,10.5),(-33.8,11.4),(-32,12),(-29.7,12.9)]
d2_type5 = [(48.2,2.3),(51,1),(53.8,-1.2),(54.5,-3),(54.9,-4.7),(57.5,-6),(60,-6.7),(61,-8.5),(61.5,-10.3),(60.5,-13.5),(59,-16.3),(55,-17.5),(50.8,-18.3),(48,-15.5),(45.1,-12.3),(42,-10.5),(39.5,-8.2),(37.5,-6.5),(35.9,-4.7),(36.5,-3),(37.4,-1.7),(40,-0.2),(42.1,0.8),(45,2)]
d2_type6 = [(-0.5,33),(2,31),(4.6,29.4),(5.5,26.5),(6.2,23.4),(8,20.5),(9.7,17.4),(6,15),(2.6,12.4),(0,12),(-3.1,12.4),(-6,13.5),(-8.7,15.4),(-9.8,19.5),(-10.8,23.4),(-9,27),(-7.2,30.5),(-4,32.3)]
d2_type7 = [(13.3,-7.2),(16,-7.5),(18.5,-7.7),(19.2,-9),(19.5,-10.8),(17.5,-13),(15.4,-15.3),(13,-15),(10.3,-14.3),(10,-12.5),(9.7,-10.8),(11,-8.5)]
d2_type8 = [(21.5,20.4),(23,18.5),(24.6,16.4),(26.5,14.5),(28.7,12.9),(28.5,11.8),(28.2,10.9),(26.5,10.3),(24.6,9.8),(22.5,11),(20.5,12.4),(20,14),(19.5,15.9),(20.5,18)]
d2_type9 = [(-59,12.9),(-57,11),(-55.4,9.3),(-56,6.5),(-56.9,3.8),(-58.5,2.5),(-60,1.8),(-62,3),(-64.1,4.8),(-64.4,6),(-64.6,7.3),(-63,9.5),(-61.5,11.4)]
d2_strays = [(25.8,32.5,5),(24.6,18.2,2),(25.1,23.9,8),(27.7,19.4,8),(35.2,25.2,8),(-9.7,12.7,8),(-23.4,10.7,1),(-13.8,12.6,4),(-11.8,12.7,3),(-6.7,13.2,3),(-54.6,3.8,4),(-55.8,3.1,4),(19.5,-9.3,4),(21.5,-9.5,4),(-32.8,-3.5,5),(53.8,0.5,3),(45.7,-16.8,5)]

a2_clusters = [a2_type0, a2_type1, a2_type2, a2_type3, a2_type4, a2_type5, a2_type6, a2_type7, a2_type8, a2_type9]
b2_clusters = [b2_type0, b2_type1, b2_type2, b2_type3, b2_type4, b2_type5, b2_type6, b2_type7, b2_type8, b2_type9]
c2_clusters = [c2_type0, c2_type1, c2_type2, c2_type3, c2_type4, c2_type5, c2_type6, c2_type7, c2_type8, c2_type9]
d2_clusters = [d2_type0, d2_type1, d2_type2, d2_type3, d2_type4, d2_type5, d2_type6, d2_type7, d2_type8, d2_type9]

# the page keeps the browser's 8px body margin, so the figure is 16px smaller and all pixel positions shift by 8
MARGIN = 8
W, H = 4048 - 2 * MARGIN, 1938 - 2 * MARGIN
fig = go.Figure()
shapes = []
annotations = []
layout_axes = {}
FONT = "Liberation Serif"


def px(x):
    return (x - MARGIN) / W


def py(y):
    return 1 - (y - MARGIN) / H


def add_axes(n, box, xr, yr, xticks, yticks):
    left, right, top, bottom = box
    common = dict(showgrid=False, zeroline=False, showline=True, mirror=True, linecolor="#000", linewidth=2,
                  ticks="outside", ticklen=8, tickwidth=2, tickcolor="#000", tickfont=dict(family=FONT, size=32, color="#000"))
    suffix = "" if n == 1 else str(n)
    layout_axes["xaxis" + suffix] = dict(domain=[px(left), px(right)], range=xr, tickmode="array", tickvals=xticks,
                                         anchor="y" + suffix, **common)
    layout_axes["yaxis" + suffix] = dict(domain=[py(bottom), py(top)], range=yr, tickmode="array", tickvals=yticks,
                                         anchor="x" + suffix, **common)
    return "x" + suffix, "y" + suffix


def small_box(x0, x1, y0, y1):
    r = 5
    path = (f"M {px(x0 + r)} {py(y0)} L {px(x1 - r)} {py(y0)} Q {px(x1)} {py(y0)} {px(x1)} {py(y0 + r)} "
            f"L {px(x1)} {py(y1 - r)} Q {px(x1)} {py(y1)} {px(x1 - r)} {py(y1)} L {px(x0 + r)} {py(y1)} "
            f"Q {px(x0)} {py(y1)} {px(x0)} {py(y1 - r)} L {px(x0)} {py(y0 + r)} Q {px(x0)} {py(y0)} {px(x0 + r)} {py(y0)} Z")
    shapes.append(dict(type="path", path=path, xref="paper", yref="paper", line=dict(color="#d9d9d9", width=2), fillcolor="#fff"))


def arrow(x0, x1, y):
    pts = [(x0, y - 6), (x1 - 26, y - 6), (x1 - 26, y - 13), (x1, y), (x1 - 26, y + 13), (x1 - 26, y + 6), (x0, y + 6)]
    path = "M " + " L ".join(f"{px(a)} {py(b)}" for a, b in pts) + " Z"
    shapes.append(dict(type="path", path=path, xref="paper", yref="paper", line=dict(width=0), fillcolor="#1b5fab"))


def text(s, x, y, size):
    annotations.append(dict(text=s, x=px(x), y=py(y), xref="paper", yref="paper", showarrow=False,
                            font=dict(family=FONT, size=size, color="#000"), xanchor="center", yanchor="middle"))


def left_panel(n, box, xr, yr, xticks, yticks, points, edge, legend_name, legend_xy, font_size):
    xa, ya = add_axes(n, box, xr, yr, xticks, yticks)
    ex, ey = zip(*edge)
    fig.add_trace(go.Scatter(x=list(ex) + [ex[0]], y=list(ey) + [ey[0]], mode="lines", fill="toself", fillcolor="#00807f",
                             line=dict(width=0), xaxis=xa, yaxis=ya, showlegend=False, hoverinfo="skip"))
    x, y, c = zip(*points)
    fig.add_trace(go.Scatter(x=x, y=y, mode="markers", xaxis=xa, yaxis=ya, showlegend=False,
                             marker=dict(size=13, color=[fault_colors[i] for i in c], line=dict(width=0))))
    for name, color in zip(fault_types, fault_colors):
        fig.add_trace(go.Scatter(x=[None], y=[None], mode="markers", name=name, legend=legend_name, xaxis=xa, yaxis=ya,
                                 marker=dict(size=13, color=color)))
    layout_axes[legend_name] = dict(title=dict(text="Fault types", font=dict(family=FONT, size=font_size, color="#000")),
                                    font=dict(family=FONT, size=font_size, color="#000"), x=px(legend_xy[0]), y=py(legend_xy[1]),
                                    xanchor="left", yanchor="top", bgcolor="rgba(255,255,255,0.8)", bordercolor="#d9d9d9", borderwidth=2,
                                    itemwidth=100, itemsizing="constant", tracegroupgap=0)


def right_panel(n, box, xr, yr, xticks, yticks, clusters, strays):
    xa, ya = add_axes(n, box, xr, yr, xticks, yticks)
    for name, color, rim in zip(fault_types, fault_colors, clusters):
        x, y = zip(*rim)
        fig.add_trace(go.Scatter(x=list(x) + [x[0]], y=list(y) + [y[0]], mode="markers", fill="toself", fillcolor=color, name=name,
                                 xaxis=xa, yaxis=ya, showlegend=False, marker=dict(size=14, color=color, line=dict(width=0))))
    x, y, c = zip(*strays)
    fig.add_trace(go.Scatter(x=x, y=y, mode="markers", xaxis=xa, yaxis=ya, showlegend=False,
                             marker=dict(size=13, color=[fault_colors[i] for i in c], line=dict(width=0))))


left_panel(1, (84, 845, 124, 879), [-64.2, 95.8], [-75.3, 76.4], list(range(-60, 81, 20)), list(range(-60, 61, 20)),
           a1_points, a1_ball_edge, "legend", (763, 23), 32)
right_panel(2, (1127, 1992, 32, 892), [-81, 81.9], [-86.3, 72], list(range(-75, 76, 25)), list(range(-80, 61, 20)), a2_clusters, a2_strays)
left_panel(3, (2146, 2887, 124, 860), [-84, 30.3], [-65.9, 53.7], list(range(-80, 21, 20)), list(range(-60, 41, 20)),
           b1_points, b1_ball_edge, "legend2", (2808, 26), 31)
right_panel(4, (3163, 4029, 29, 889), [-66.7, 56.7], [-82.1, 72.9], list(range(-60, 41, 20)), list(range(-80, 61, 20)), b2_clusters, b2_strays)
left_panel(5, (68, 843, 1058, 1828), [-52.5, 66.4], [-15, 80.6], list(range(-40, 61, 20)), list(range(0, 81, 20)),
           c1_points, c1_ball_edge, "legend3", (760, 960), 32)
right_panel(6, (1128, 1993, 998, 1858), [-68.3, 59.5], [-71.2, 73], list(range(-60, 41, 20)), list(range(-60, 61, 20)), c2_clusters, c2_strays)
left_panel(7, (2131, 2872, 1096, 1833), [-73.9, 41.2], [-78.6, 28.9], list(range(-60, 41, 20)), list(range(-60, 21, 20)),
           d1_points, d1_ball_edge, "legend4", (2793, 997), 31)
right_panel(8, (3150, 4015, 1002, 1862), [-70.7, 67.3], [-66.7, 71.9], list(range(-60, 61, 20)), list(range(-60, 61, 20)), d2_clusters, d2_strays)

# empty legend boxes left over inside the axes
small_box(1948, 1975, 50, 78)
small_box(3982, 4011, 48, 76)
small_box(1952, 1981, 1016, 1045)
small_box(3969, 3998, 1020, 1049)
small_box(805, 829, 138, 163)
small_box(2848, 2871, 140, 163)
small_box(802, 827, 1077, 1100)
small_box(2834, 2858, 1120, 1146)

arrow(953, 1067, 468)
arrow(2981, 3095, 460)
arrow(944, 1057, 1441)
arrow(2975, 3088, 1440)

text("IDARN", 1013, 429, 44)
text("DARN", 3046, 422, 44)
text("IDARN", 1003, 1403, 44)
text("IDARN", 3036, 1400, 44)
text("(a)", 1023, 928, 65)
text("(b)", 3045, 925, 65)
text("(c)", 1022, 1889, 65)
text("(d)", 3047, 1883, 65)

fig.update_layout(width=W, height=H, autosize=False, margin=dict(l=0, r=0, t=0, b=0), paper_bgcolor="#fff", plot_bgcolor="#fff",
                  shapes=shapes, annotations=annotations, **layout_axes)

fig.write_html("out.html")
